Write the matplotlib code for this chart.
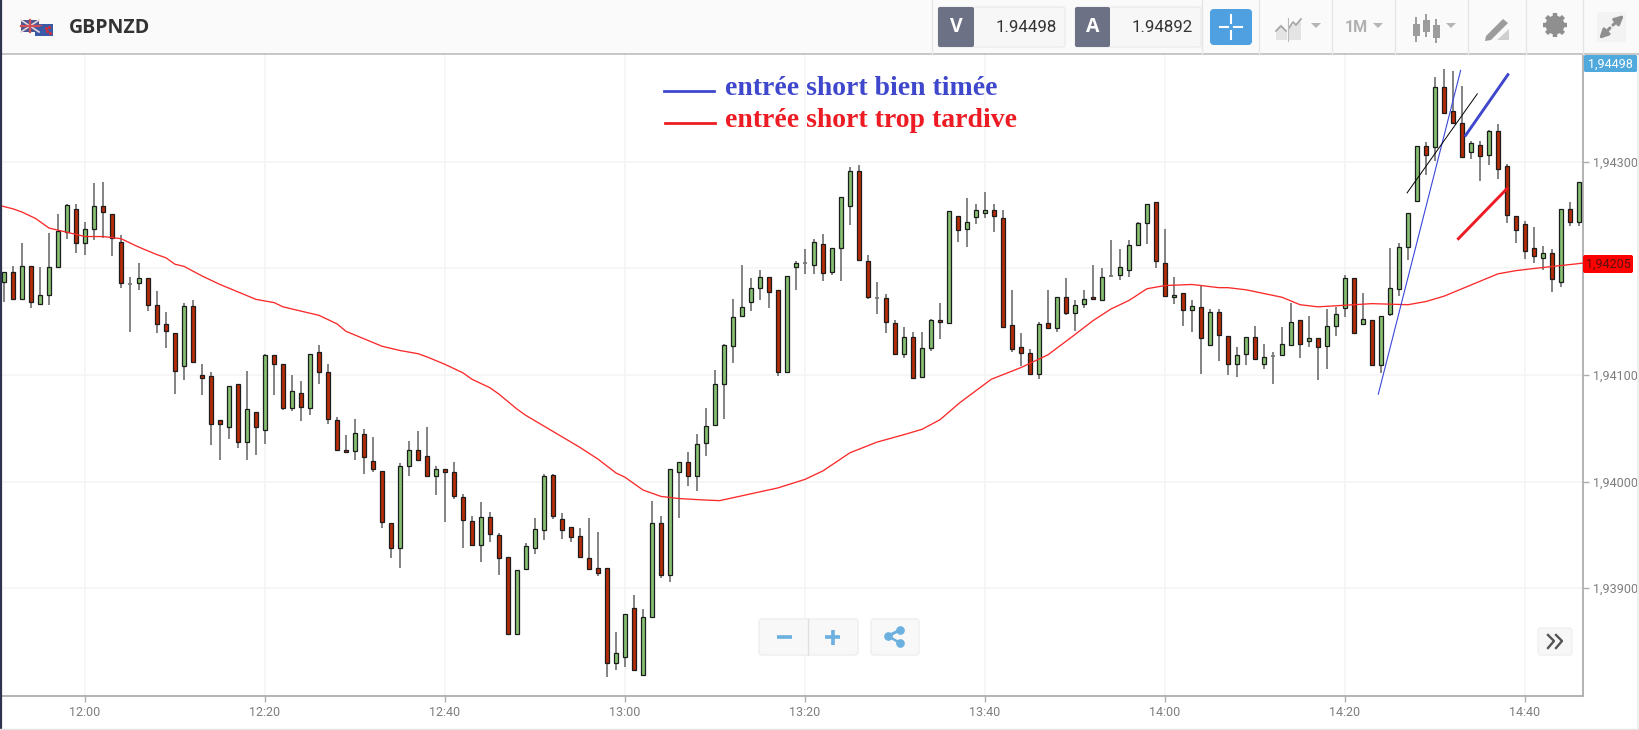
import numpy as np
import matplotlib
matplotlib.use("Agg")
import matplotlib.pyplot as plt
from matplotlib.patches import Rectangle, FancyBboxPatch, Polygon, Circle
from matplotlib.ticker import FuncFormatter

W, H = 1639, 730

# Prices are stored as points (0.00001) above 1.93000. First candle is at 11:51, one per minute.
first_minute = -9
opens = [1187,1197,1171,1202,1167,1175,1201,1234,1256,1224,
 1237,1259,1251,1225,1185,1186,1191,1166,1148,1139,
 1108,1165,1100,1099,1058,1051,1092,1037,1065,1048,
 1119,1110,1069,1083,1069,1122,1103,1058,1030,1029,
 1045,1019,1010,961,938,1015,1030,1024,1005,1012,
 1009,985,963,940,967,950,929,857,918,938,
 954,1006,965,957,949,928,919,919,830,835,
 881,818,873,961,912,1009,1018,1005,1036,1053,
 1092,1127,1155,1169,1182,1192,1180,1103,1201,1205,
 1203,1223,1197,1219,1259,1292,1207,1172,1172,1149,
 1120,1136,1098,1125,1152,1149,1249,1237,1248,1252,
 1255,1247,1147,1126,1121,1101,1149,1144,1173,1158,
 1167,1173,1170,1193,1194,1199,1222,1243,1262,1205,
 1173,1177,1161,1164,1128,1159,1137,1110,1120,1136,
 1110,1118,1119,1128,1152,1132,1135,1127,1146,1163,
 1191,1148,1152,1109,1157,1181,1220,1263,1315,1314,
 1370,1348,1337,1309,1316,1307,1329,1296,1249,1242,
 1219,1210,1215,1187,1256,1244]
highs = [1197,1202,1224,1202,1201,1233,1251,1261,1261,1244,
 1280,1281,1251,1231,1192,1205,1191,1179,1159,1139,
 1168,1170,1110,1103,1058,1090,1092,1104,1065,1120,
 1119,1110,1100,1094,1120,1128,1110,1061,1044,1059,
 1049,1042,1010,961,1017,1038,1047,1051,1015,1012,
 1018,988,968,981,971,952,929,917,942,966,
 1007,1007,970,957,956,966,953,919,859,876,
 893,880,982,968,1012,1018,1028,1045,1069,1105,
 1129,1171,1203,1191,1199,1192,1180,1193,1207,1218,
 1228,1232,1219,1267,1295,1297,1213,1187,1176,1152,
 1145,1140,1140,1153,1168,1254,1249,1266,1261,1272,
 1261,1255,1180,1139,1124,1150,1180,1173,1191,1170,
 1180,1203,1200,1227,1218,1227,1244,1261,1262,1237,
 1192,1177,1170,1184,1162,1162,1137,1126,1136,1146,
 1129,1122,1145,1168,1152,1155,1135,1162,1164,1194,
 1191,1177,1152,1155,1219,1224,1252,1315,1319,1380,
 1387,1385,1371,1320,1320,1330,1336,1298,1249,1245,
 1239,1221,1218,1256,1262,1281]
lows = [1169,1171,1171,1163,1167,1166,1201,1228,1215,1213,
 1227,1229,1212,1182,1140,1180,1160,1139,1125,1082,
 1095,1112,1081,1034,1020,1040,1031,1020,1025,1035,
 1081,1067,1066,1057,1062,1092,1054,1030,1028,1020,
 1007,1009,956,928,919,1005,1020,1005,987,962,
 984,938,940,924,943,912,857,856,918,932,
 945,965,946,943,929,918,911,816,823,826,
 823,818,873,909,906,966,996,991,1024,1053,
 1059,1111,1155,1160,1170,1163,1099,1103,1180,1195,
 1195,1188,1194,1188,1241,1208,1171,1157,1139,1120,
 1116,1097,1098,1123,1134,1149,1225,1220,1242,1247,
 1234,1145,1122,1108,1101,1096,1144,1140,1156,1141,
 1163,1171,1170,1192,1189,1192,1222,1223,1200,1174,
 1167,1146,1140,1101,1128,1113,1100,1098,1109,1115,
 1106,1092,1119,1128,1116,1126,1095,1106,1137,1154,
 1139,1148,1109,1102,1155,1174,1208,1263,1288,1301,
 1345,1337,1305,1303,1282,1297,1284,1243,1224,1209,
 1205,1199,1178,1183,1240,1240]
closes = [1197,1171,1202,1169,1175,1201,1235,1260,1224,1237,
 1259,1253,1229,1186,1185,1191,1166,1148,1141,1104,
 1165,1112,1097,1054,1054,1090,1037,1068,1051,1119,
 1110,1069,1085,1070,1120,1103,1059,1030,1028,1046,
 1023,1012,962,938,1015,1030,1020,1005,1012,1009,
 986,964,940,967,951,928,857,917,939,955,
 1005,968,954,948,929,918,914,830,839,876,
 823,873,961,912,1012,1018,1005,1035,1052,1092,
 1128,1154,1164,1182,1192,1178,1103,1193,1205,1205,
 1225,1196,1219,1267,1292,1208,1173,1172,1150,1120,
 1136,1097,1125,1152,1150,1254,1236,1244,1255,1255,
 1249,1145,1124,1121,1101,1148,1144,1173,1158,1166,
 1171,1171,1192,1193,1201,1222,1243,1261,1207,1174,
 1175,1161,1165,1135,1159,1138,1110,1119,1136,1115,
 1117,1118,1129,1150,1129,1135,1126,1146,1157,1191,
 1139,1153,1109,1155,1182,1220,1252,1315,1307,1370,
 1346,1337,1305,1318,1306,1329,1293,1250,1236,1216,
 1212,1215,1190,1256,1244,1281]

# moving average read at these minutes
ma_minutes = [-9.4,-8,-7,-5.5,-4,-2,0,2,4,6,8,9,10,11,13,15,17,19,21,22,24,26,27,28,29,31,33,35,37,38,40,42,43,45,46,
 48,49,51,53,55,57,59,60,61,62,64,66,68,70.5,77,80,82,85,88,91,93,95,97.2,100.7,104,107,110,112,114,116,118,120,
 123,126,127,129,133,135,137,139,141,143,147,149,151,153,155,157,159,161,166.4]
ma_values = [1259,1256,1253,1247,1238,1234,1230,1230,1228,1220,1213,1210,1204,1202,1193,1185,1178,1171,1168,1164,1160,1156,1152,1148,1141,1134,1127,1123,1120,1117,1110,1102,1096,1088,1082,
 1068,1062,1052,1042,1032,1021,1008,1004,998,992,986,984,983,982,994,1002,1010,1027,1037,1044,1049,1058,1074,1096,1107,1119,1138,1151,1162,1170,1181,1184,
 1185,1182,1182,1180,1173,1166,1164,1165,1166,1167,1166,1169,1174,1181,1188,1195,1198,1200,1205]

# hand-drawn trend lines: (minute, minute), (points, points)
thin_blue = ([143.7, 152.85], [1082, 1386])
thin_black = ([146.9, 154.7], [1271, 1364])
thick_blue = ([153.4, 158.1], [1325, 1382])
thick_red = ([152.6, 158.0], [1228, 1275])

price_ticks = [1.939, 1.940, 1.941, 1.942, 1.943]
time_ticks = [0, 20, 40, 60, 80, 100, 120, 140, 160]
time_labels = ["12:00", "12:20", "12:40", "13:00", "13:20", "13:40", "14:00", "14:20", "14:40"]
legend_labels = ["entrée short bien timée", "entrée short trop tardive"]
symbol = "GBPNZD"
bid_ask = ["1.94498", "1.94892"]
last_tags = ["1,94498", "1,94205"]

C_GREEN, C_RED, C_WICK = "#85bf70", "#b52c08", "#7a7a7a"
C_BLUE_L, C_RED_L = "#3f48cc", "#ed1c24"
TICKC = "#7d7d7d"
UI = "#b5b5b5"


def price(p):
    return 1.93 + np.asarray(p, dtype=float) / 1e5


fig = plt.figure(figsize=(W / 100, H / 100), dpi=100, facecolor="white")

# ---- pixel layer for the trading-screen chrome
ui = fig.add_axes([0, 0, 1, 1], zorder=5)
ui.set_xlim(0, W)
ui.set_ylim(H, 0)
ui.axis("off")
ui.patch.set_alpha(0)

# ---- price chart
L, R, T, B = 0, 1583, 54, 696
ax = fig.add_axes([L / W, 1 - B / H, (R - L) / W, (B - T) / H], zorder=2)
ax.set_xlim(-85 / 9, (R - 85) / 9)
ax.set_ylim(1.93 + 798.6 / 1e5, 1.93 + 1401.4 / 1e5)
ax.set_facecolor("white")
ax.grid(True, color="#f5f5f5", lw=1.2)
ax.set_axisbelow(True)
for s in ("top", "left"):
    ax.spines[s].set_visible(False)
for s in ("right", "bottom"):
    ax.spines[s].set_color("#adadad")
    ax.spines[s].set_linewidth(1.3)
ax.yaxis.tick_right()
ax.set_yticks(price_ticks)
ax.yaxis.set_major_formatter(FuncFormatter(lambda v, _: "" if abs(v - 1.942) < 1e-6 else f"{v:.5f}".replace(".", ",")))
ax.set_xticks(time_ticks)
ax.set_xticklabels(time_labels)
ax.tick_params(axis="both", colors="#adadad", labelcolor=TICKC, labelsize=9, length=4, width=1, pad=3)
for lab in ax.get_xticklabels() + ax.get_yticklabels():
    lab.set_fontfamily("Roboto")

xs = first_minute + np.arange(len(opens))
o, h, l, c = map(price, (opens, highs, lows, closes))
ax.vlines(xs, l, h, color=C_WICK, lw=1.3, zorder=2)
for x, op, cl in zip(xs, o, c):
    if abs(op - cl) < 1e-7:
        ax.hlines(op, x - 0.27, x + 0.27, color=C_WICK, lw=1.3, zorder=3)
    else:
        ax.bar(x, abs(cl - op), bottom=min(op, cl), width=0.5,
               color=C_GREEN if cl > op else C_RED, edgecolor="#1c1c1c", linewidth=0.9, zorder=3)

ax.plot(ma_minutes, price(ma_values), color="#fb2a2a", lw=0.95, zorder=4)
ax.plot(thin_blue[0], price(thin_blue[1]), color="#3a46d8", lw=0.8, zorder=5)
ax.plot(thin_black[0], price(thin_black[1]), color="black", lw=0.7, zorder=5)
ax.plot(thick_blue[0], price(thick_blue[1]), color=C_BLUE_L, lw=2.1, zorder=5)
ax.plot(thick_red[0], price(thick_red[1]), color=C_RED_L, lw=2.1, zorder=5)

# ---- legend written on the chart
ui.plot([664, 714], [91, 91], color=C_BLUE_L, lw=2)
ui.plot([665, 715], [123, 123], color=C_RED_L, lw=2)
ui.text(725, 95, legend_labels[0], family="Liberation Serif", weight="bold", fontsize=20, color=C_BLUE_L, va="baseline")
ui.text(725, 127, legend_labels[1], family="Liberation Serif", weight="bold", fontsize=20, color=C_RED_L, va="baseline")

# ---- price tags
ui.add_patch(FancyBboxPatch((1584, 55), 53, 17, boxstyle="round,pad=0,rounding_size=1.5", fc="#4fa9dc", ec="none"))
ui.text(1610.5, 64, last_tags[0], color="white", family="Roboto", fontsize=9, ha="center", va="center")
ui.add_patch(FancyBboxPatch((1583, 255), 50, 18, boxstyle="round,pad=0,rounding_size=2", fc="#ff0000", ec="none"))
ui.text(1608, 264.5, last_tags[1], color="#5a1010", family="Roboto", fontsize=9, ha="center", va="center")

# ---- toolbar
ui.add_patch(Rectangle((0, 0), W, 54, fc="#fafafa", ec="none"))
ui.plot([0, W], [54, 54], color="#bdbdbd", lw=1.2)
ui.plot([1, 1], [0, H], color="#2e3350", lw=1.6)
ui.plot([0, W], [728.5, 728.5], color="#e4e4e4", lw=1)
ui.add_patch(Rectangle((1637, 54), 2, H - 54, fc="#efefef", ec="none"))
for sx in (932, 1202, 1259, 1332, 1395, 1468, 1526, 1583):
    ui.plot([sx, sx], [0, 54], color="#e6e6e6", lw=1)

# flags
ui.add_patch(Rectangle((21, 20), 18, 12, fc="#4a5794", ec="none"))
ui.plot([21, 39], [20, 32], color="#e8d8d8", lw=1.2)
ui.plot([21, 39], [32, 20], color="#e8d8d8", lw=1.2)
ui.plot([30, 30], [20, 32], color="#d0505a", lw=1.6)
ui.plot([21, 39], [26, 26], color="#d0505a", lw=1.6)
ui.add_patch(Rectangle((35, 24), 18, 12, fc="#3a5aa8", ec="none"))
ui.plot([46, 49, 47, 50], [28, 27, 31, 33], ls="none", marker="o", ms=1.2, color="#d0303a")
ui.plot([36, 41], [25, 25], color="#c8505a", lw=1)
ui.text(69, 28, symbol, family="Open Sans", weight="bold", fontsize=14, color="#333333", va="center")

# bid / ask
for x0, x1, x2, letter, val in ((938, 974, 1065, "V", bid_ask[0]), (1075, 1110, 1201, "A", bid_ask[1])):
    ui.add_patch(FancyBboxPatch((x0, 7), x2 - x0, 40, boxstyle="round,pad=0,rounding_size=2", fc="#f7f7f7", ec="#ececec", lw=1))
    ui.add_patch(FancyBboxPatch((x0, 7), x1 - x0, 40, boxstyle="round,pad=0,rounding_size=2", fc="#6d7185", ec="none"))
    ui.text((x0 + x1) / 2, 27.5, letter, color="white", weight="bold", family="Open Sans", fontsize=14, ha="center", va="center")
    ui.text(x2 - 8, 27.5, val, color="#333333", family="Roboto", fontsize=12.2, ha="right", va="center")

# crosshair button
ui.add_patch(FancyBboxPatch((1210, 9), 42, 36, boxstyle="round,pad=0,rounding_size=4", fc="#4fa0e0", ec="none"))
for seg in (([1220, 1228], [27, 27]), ([1234, 1242], [27, 27]), ([1231, 1231], [15, 23]), ([1231, 1231], [31, 39])):
    ui.plot(seg[0], seg[1], color="white", lw=1.5)

# chart type icon
ui.add_patch(Polygon([(1276, 40), (1276, 29), (1281, 24), (1287, 31), (1287, 40)], fc="#e4e4e4", ec="none"))
ui.add_patch(Polygon([(1289, 40), (1289, 26), (1295, 24), (1301, 19), (1301, 40)], fc="#e4e4e4", ec="none"))
ui.plot([1276, 1281, 1286], [31, 26, 31], color="#a5a5a5", lw=1.2)
ui.plot([1289, 1293, 1296, 1301], [28, 22, 25, 19], color="#a5a5a5", lw=1.2)
ui.plot([1288, 1288], [18, 41], color="#bbbbbb", lw=0.8)


def tri(x, y):
    ui.add_patch(Polygon([(x - 5, y - 2), (x + 5, y - 2), (x, y + 3)], fc=UI, ec="none"))


tri(1316, 25)
tri(1378, 25)
tri(1451, 25)
ui.text(1345, 28, "1M", color="#b0b0b0", weight="bold", family="Roboto", fontsize=11.5, va="center")

# candle type icon
for cx, y0, y1, b0, b1 in ((1416, 18, 41, 24, 36), (1426, 15, 36, 20, 32), (1436, 20, 42, 25, 38)):
    ui.plot([cx, cx], [y0, y1], color="#9c9c9c", lw=1.4)
    ui.add_patch(Rectangle((cx - 3.5, b0), 7, b1 - b0, fc="#9c9c9c", ec="none"))

# draw icon
ui.add_patch(Polygon([(1486, 36), (1503, 19), (1508, 23), (1491, 40), (1485, 41)], fc="#9c9c9c", ec="none"))
ui.add_patch(Polygon([(1497, 40), (1509, 29), (1509, 40)], fc="#cfcfcf", ec="none"))

# gear icon
for ang in np.deg2rad(np.arange(0, 360, 45)):
    ui.plot([1555, 1555 + 12 * np.cos(ang)], [25, 25 + 12 * np.sin(ang)], color="#8f8f8f", lw=3.2, solid_capstyle="butt")
ui.add_patch(Circle((1555, 25), 9.5, fc="#8f8f8f", ec="none"))
ui.add_patch(Circle((1555, 25), 4, fc="#fafafa", ec="none"))

# expand icon
ui.add_patch(Rectangle((1597, 12), 29, 30, fc="#f3f3f3", ec="none"))
ui.annotate("", xy=(1624, 15), xytext=(1613, 25), arrowprops=dict(arrowstyle="-|>", color="#8f8f8f", lw=2.2, mutation_scale=13, shrinkA=0, shrinkB=0))
ui.annotate("", xy=(1599, 39), xytext=(1610, 28), arrowprops=dict(arrowstyle="-|>", color="#8f8f8f", lw=2.2, mutation_scale=13, shrinkA=0, shrinkB=0))

# zoom / share buttons
BLUE_UI = "#6bb0de"
ui.add_patch(FancyBboxPatch((759, 619), 99, 36, boxstyle="round,pad=0,rounding_size=3", fc="#f8f8f8", ec="#eeeeee", lw=1))
ui.add_patch(FancyBboxPatch((871, 619), 48, 36, boxstyle="round,pad=0,rounding_size=3", fc="#f8f8f8", ec="#eeeeee", lw=1))
ui.plot([808, 808], [619, 655], color="#e0e0e0", lw=1)
ui.plot([777, 792], [637, 637], color=BLUE_UI, lw=2.6, solid_capstyle="butt")
ui.plot([825, 840], [637, 637], color=BLUE_UI, lw=2.6, solid_capstyle="butt")
ui.plot([832.5, 832.5], [629.5, 644.5], color=BLUE_UI, lw=2.6, solid_capstyle="butt")
ui.plot([888, 900, 888, 900], [636, 630, 636, 643], color=BLUE_UI, lw=1.8)
ui.plot([888, 900, 900], [636, 630, 643], ls="none", marker="o", ms=5.2, color=BLUE_UI)

# collapse button
ui.add_patch(FancyBboxPatch((1538, 628), 34, 27, boxstyle="round,pad=0,rounding_size=3", fc="#f7f7f7", ec="#f0f0f0", lw=1))
ui.plot([1548, 1554, 1548], [635, 641, 648], color="#555555", lw=1.7)
ui.plot([1556, 1562, 1556], [635, 641, 648], color="#555555", lw=1.7)

fig.savefig("out.png", dpi=100)
